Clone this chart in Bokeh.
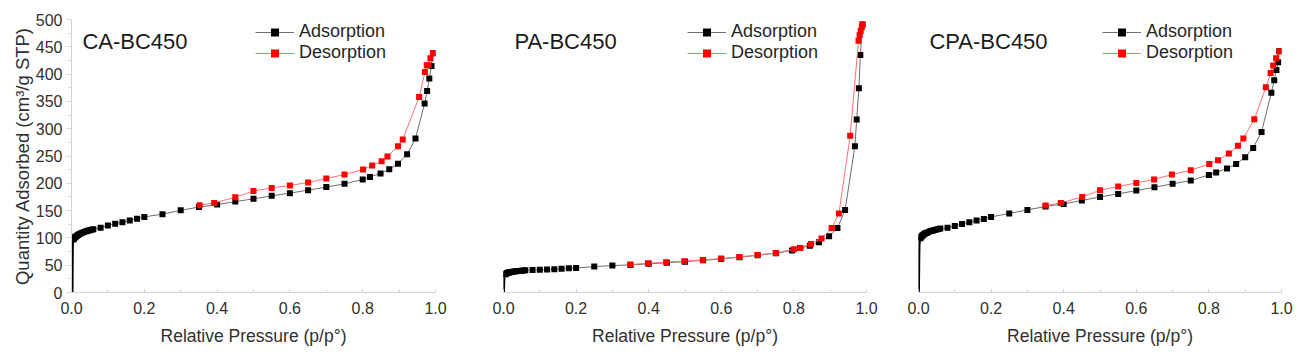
from bokeh.plotting import figure
from bokeh.layouts import row
from bokeh.models import (Range1d, SingleIntervalTicker, Legend, LegendItem, Label,
                          ColumnDataSource, NumeralTickFormatter)
from bokeh.embed import file_html
from bokeh.resources import INLINE

# ---------------- data ----------------
titles = ["CA-BC450", "PA-BC450", "CPA-BC450"]
series_names = ["Adsorption", "Desorption"]
x_ticks = [0.0, 0.2, 0.4, 0.6, 0.8, 1.0]
y_ticks = [0, 50, 100, 150, 200, 250, 300, 350, 400, 450, 500]

# CA-BC450
ca_ads_p = [0.0020, 0.0022, 0.0025, 0.0028, 0.0030, 0.0035, 0.0040,
            0.005, 0.006, 0.008, 0.010, 0.012, 0.015, 0.018, 0.021, 0.025, 0.030,
            0.035, 0.040, 0.045, 0.050, 0.055, 0.060,
            0.08, 0.10, 0.12, 0.14, 0.16, 0.18, 0.20, 0.25, 0.30, 0.35, 0.40, 0.45,
            0.50, 0.55, 0.60, 0.65, 0.70, 0.75, 0.80, 0.82, 0.849, 0.873, 0.897,
            0.922, 0.945, 0.970, 0.977, 0.983, 0.989, 0.993]
ca_ads_q = [1, 20, 45, 70, 85, 92, 95,
            97, 98.5, 100, 101.5, 102.5, 104, 105.5, 106.5, 108, 109.5,
            111, 112, 113, 114, 115, 116,
            118.5, 122.7, 126, 128.7, 132, 135, 138.5, 143.5, 150.5, 156.5, 161, 166.5,
            171.5, 177, 182, 187.5, 193, 199, 207, 211.7, 218, 225.8, 236,
            253, 282, 346, 369, 392, 415, 438]
ca_des_p = [0.993, 0.986, 0.981, 0.976, 0.971, 0.955, 0.910, 0.897, 0.868, 0.852,
            0.826, 0.801, 0.75, 0.70, 0.65, 0.60, 0.55, 0.50, 0.45, 0.392, 0.352]
ca_des_q = [438, 429, 416, 416, 404, 358, 280, 268, 249, 240.5,
            232.6, 225.3, 216, 208.8, 201.5, 196, 191.6, 186, 174.5, 164, 160]

# PA-BC450
pa_ads_p = [0.0005, 0.0008, 0.0012, 0.0016, 0.0020, 0.0030, 0.0040,
            0.005, 0.006, 0.008, 0.010, 0.012, 0.015, 0.018, 0.021, 0.025, 0.030,
            0.035, 0.040, 0.045, 0.050, 0.055, 0.060,
            0.08, 0.10, 0.12, 0.14, 0.16, 0.18, 0.20, 0.25, 0.30, 0.35, 0.40, 0.45,
            0.50, 0.55, 0.60, 0.65, 0.70, 0.75, 0.795, 0.817, 0.844, 0.869, 0.897,
            0.920, 0.941, 0.968, 0.973, 0.979, 0.983, 0.989]
pa_ads_q = [1, 8, 16, 23, 28, 31, 32.5,
            33.5, 34, 35, 35.5, 36, 36.5, 37, 37.5, 38, 38.5,
            39, 39.3, 39.6, 40, 40.3, 40.6,
            41, 41.5, 42, 42.7, 43.5, 44.3, 45, 47.4, 49.3, 50.5, 52.5, 54.5,
            56.5, 59, 61.5, 64.5, 68, 72, 77, 81.7, 85.4, 92, 103,
            118, 151, 268, 317, 374, 435, 491]
pa_des_p = [0.989, 0.987, 0.984, 0.981, 0.978, 0.955, 0.924, 0.904, 0.876, 0.847,
            0.818, 0.800, 0.751, 0.70, 0.65, 0.599, 0.549, 0.498, 0.448, 0.398, 0.349]
pa_des_q = [491, 486, 479, 471, 461, 287, 144.7, 118, 98.9, 89,
            81.7, 79.3, 72.5, 68.9, 65.2, 62.2, 59.7, 57.3, 55.5, 53.7, 51.2]

# CPA-BC450
cpa_ads_p = [0.0005, 0.0008, 0.0012, 0.0016, 0.0020, 0.0030, 0.0040,
             0.005, 0.006, 0.008, 0.010, 0.012, 0.015, 0.018, 0.021, 0.025, 0.030,
             0.035, 0.040, 0.045, 0.050, 0.055, 0.060,
             0.08, 0.10, 0.12, 0.14, 0.16, 0.18, 0.20, 0.25, 0.30, 0.35, 0.40, 0.45,
             0.50, 0.55, 0.60, 0.65, 0.70, 0.75, 0.80, 0.82, 0.85, 0.875, 0.90,
             0.922, 0.945, 0.972, 0.980, 0.986, 0.991, 0.994]
cpa_ads_q = [1, 20, 45, 70, 85, 94, 97.5,
             99.5, 101, 102.5, 104, 105, 106.5, 108, 109, 110, 111.5,
             112.5, 113.5, 114.5, 115.5, 116.5, 117,
             118.5, 122, 125.6, 128.8, 131.8, 134.8, 138.5, 144.7, 151.3, 157.5, 162.3, 168.5,
             175, 180.6, 186.8, 192.8, 199, 205, 215.4, 220, 227, 235.5, 247.8,
             264.8, 294, 366, 388.8, 407.7, 421.8, 442]
cpa_des_p = [0.994, 0.985, 0.977, 0.970, 0.957, 0.925, 0.895, 0.880, 0.855, 0.825,
             0.801, 0.75, 0.698, 0.649, 0.60, 0.55, 0.50, 0.451, 0.392, 0.35]
cpa_des_q = [442, 429, 415.8, 402, 376, 317.4, 282, 269, 254.6, 242.3,
             235.5, 224, 216, 207, 200.7, 194, 187.4, 175, 164, 159.3]

# ---------------- styling ----------------
FONT = "Liberation Sans"
AXIS_COLOR = "#d4d4d4"
TEXT_COLOR = "#303030"
H = 352
TOP = 19
BOTTOM = H - TOP - 273


def make_panel(title, ads_p, ads_q, des_p, des_q, show_y, b_left, frame_w, b_right):
    p = figure(width=b_left + frame_w + b_right, height=H,
               x_range=Range1d(0, 1), y_range=Range1d(0, 500),
               output_backend="svg", toolbar_location=None,
               min_border_left=b_left, min_border_right=b_right,
               min_border_top=TOP, min_border_bottom=BOTTOM,
               y_axis_location="left" if show_y else None)
    p.outline_line_color = None
    p.grid.visible = False
    p.background_fill_color = "white"
    p.border_fill_color = "white"

    xa = p.xaxis[0]
    xa.ticker = SingleIntervalTicker(interval=0.2, num_minor_ticks=2)
    xa.formatter = NumeralTickFormatter(format="0.0")
    xa.axis_line_color = AXIS_COLOR
    xa.major_tick_line_color = AXIS_COLOR
    xa.minor_tick_line_color = AXIS_COLOR
    xa.major_tick_in = 3
    xa.major_tick_out = 0
    xa.minor_tick_in = 3
    xa.minor_tick_out = 0
    xa.major_label_standoff = 9
    xa.major_label_text_font = FONT
    xa.major_label_text_font_size = "16px"
    xa.major_label_text_color = TEXT_COLOR
    xa.axis_label = "Relative Pressure (p/p°)"
    xa.axis_label_text_font = FONT
    xa.axis_label_text_font_size = "17.5px"
    xa.axis_label_text_font_style = "normal"
    xa.axis_label_text_color = TEXT_COLOR
    xa.axis_label_standoff = 9

    if show_y:
        ya = p.yaxis[0]
        ya.ticker = SingleIntervalTicker(interval=50, num_minor_ticks=2)
        ya.axis_line_color = AXIS_COLOR
        ya.major_tick_line_color = AXIS_COLOR
        ya.minor_tick_line_color = AXIS_COLOR
        ya.major_tick_in = 0
        ya.major_tick_out = 5
        ya.minor_tick_in = 0
        ya.minor_tick_out = 3
        ya.major_label_standoff = 4
        ya.major_label_text_font = FONT
        ya.major_label_text_font_size = "16px"
        ya.major_label_text_color = TEXT_COLOR
        ya.axis_label = "Quantity Adsorbed (cm³/g STP)"
        ya.axis_label_text_font = FONT
        ya.axis_label_text_font_size = "18.5px"
        ya.axis_label_text_font_style = "normal"
        ya.axis_label_text_color = TEXT_COLOR
        ya.axis_label_standoff = 0

    ads = ColumnDataSource(dict(x=ads_p, y=ads_q))
    low = ColumnDataSource(dict(x=[v for v in ads_p if v <= 0.005],
                                y=[q for v, q in zip(ads_p, ads_q) if v <= 0.005]))
    ads_m = ColumnDataSource(dict(x=[v for v in ads_p if v > 0.0045],
                                  y=[q for v, q in zip(ads_p, ads_q) if v > 0.0045]))
    des = ColumnDataSource(dict(x=des_p, y=des_q))

    l1 = p.line("x", "y", source=ads, line_color="#6e6e6e", line_width=1)
    p.line("x", "y", source=low, line_color="black", line_width=2.5)
    s1 = p.scatter("x", "y", source=ads_m, marker="square", size=6,
                   fill_color="black", line_color=None)
    l2 = p.line("x", "y", source=des, line_color="#ff7070", line_width=1)
    s2 = p.scatter("x", "y", source=des, marker="square", size=6,
                   fill_color="#ff0000", line_color=None)

    legend = Legend(items=[LegendItem(label=series_names[0], renderers=[l1, s1]),
                           LegendItem(label=series_names[1], renderers=[l2, s2])],
                    location=(184, 229), orientation="vertical",
                    glyph_width=39, glyph_height=20, label_height=20,
                    label_standoff=5, spacing=0, padding=0, margin=0,
                    border_line_color=None, background_fill_alpha=0,
                    label_text_font=FONT, label_text_font_size="18px",
                    label_text_color="#262626")
    p.add_layout(legend)

    p.add_layout(Label(x=0.03, y=460, text=title, text_font=FONT,
                       text_font_size="22px", text_color="#1a1a1a",
                       text_baseline="alphabetic", text_align="left"))
    return p


p1 = make_panel(titles[0], ca_ads_p, ca_ads_q, ca_des_p, ca_des_q, True, 71, 364, 13)
p2 = make_panel(titles[1], pa_ads_p, pa_ads_q, pa_des_p, pa_des_q, False, 55, 363, 13)
p3 = make_panel(titles[2], cpa_ads_p, cpa_ads_q, cpa_des_p, cpa_des_q, False, 39, 363, 13)

layout = row(p1, p2, p3, spacing=0)
open("out.html", "w").write(file_html(layout, INLINE))
